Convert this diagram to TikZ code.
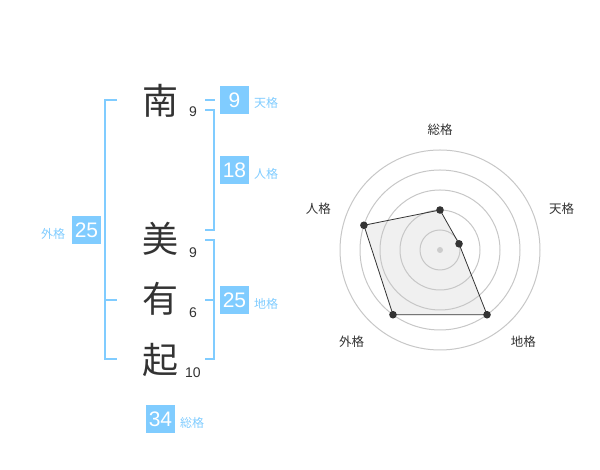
\documentclass[tikz,border=0pt]{standalone}
\usepackage{fontspec}
\setmainfont{Liberation Sans}
\newfontfamily\jp{Noto Sans CJK JP}
\usetikzlibrary{positioning}
\definecolor{skyb}{RGB}{128,204,255}
\definecolor{ink}{RGB}{51,51,51}
\begin{document}
\begin{tikzpicture}[x=1pt, y=1pt,
  kanji/.style={text=ink, font=\jp\fontsize{36}{36}\selectfont},
  stroke/.style={text=ink, font=\fontsize{14}{14}\selectfont},
  cell/.style={fill=skyb, text=white, minimum width=29pt, minimum height=28pt, inner sep=0pt, font=\fontsize{21}{21}\selectfont},
  tag/.style={text=skyb, font=\jp\fontsize{12}{12}\selectfont},
  brk/.style={draw=skyb, line width=2pt},
  ring/.style={draw=black!22, line width=1pt},
  axis/.style={text=ink, font=\jp\fontsize{12.5}{12.5}\selectfont}]
\useasboundingbox (0,0) rectangle (600,470);
\node[kanji] (c1) at (160,369) {南};
\node[kanji] (c2) at (160,231) {美};
\node[kanji] (c3) at (160,171) {有};
\node[kanji] (c4) at (160,110) {起};
\node[stroke] (n1) at (193,358) {9};
\node[stroke] (n2) at (193,217) {9};
\node[stroke] (n3) at (193,157) {6};
\node[stroke] (n4) at (193,97) {10};
\coordinate (ga) at (117,370);
\coordinate (gb) at (117,170);
\coordinate (gc) at (117,111);
\draw[brk] (ga) -| (105,111) -- (gc);
\draw[brk] (105,170) -- (gb);
\coordinate (ta) at (205,370);
\coordinate (tb) at (215,370);
\draw[brk] (ta) -- (tb);
\coordinate (ja) at (205,360);
\coordinate (jb) at (205,240);
\draw[brk] (ja) -| (214,240) -- (jb);
\coordinate (da) at (205,230);
\coordinate (db) at (205,170);
\coordinate (dc) at (205,111);
\draw[brk] (da) -| (214,111) -- (dc);
\draw[brk] (214,170) -- (db);
\node[cell] (ten) at (234.5,370) {9};
\node[cell] (jin) at (234.5,299.5) {18};
\node[cell] (gai) at (86.5,240) {25};
\node[cell] (chi) at (234.5,169.5) {25};
\node[cell] (sou) at (160.5,51) {34};
\node[tag] at (266,367) {天格};
\node[tag] at (266,296) {人格};
\node[tag] at (53,236) {外格};
\node[tag] at (266,166) {地格};
\node[tag] at (192,47) {総格};
\begin{scope}[shift={(440,220)}]
\coordinate (o) at (0,0);
\coordinate (ps) at (90:40);
\coordinate (pt) at (18:20);
\coordinate (pd) at (-54:80);
\coordinate (pg) at (-126:80);
\coordinate (pj) at (162:80);
\fill[black!6] (ps) -- (pt) -- (pd) -- (pg) -- (pj) -- cycle;
\foreach \r in {20,40,...,100} \draw[ring] (o) circle [radius=\r pt];
\draw[ink, line width=0.8pt] (ps) -- (pt) -- (pd) -- (pg) -- (pj) -- cycle;
\fill[black!20] (o) circle [radius=3pt];
\foreach \p in {ps,pt,pd,pg,pj} \fill[ink] (\p) circle [radius=3.8pt];
\node[axis] (as) at (0,120) {総格};
\node[axis] (at) at (121.7,41.7) {天格};
\node[axis] (ad) at (83.3,-91.7) {地格};
\node[axis] (ag) at (-88.3,-91.7) {外格};
\node[axis] (aj) at (-121.7,41.7) {人格};
\end{scope}
\end{tikzpicture}
\end{document}
